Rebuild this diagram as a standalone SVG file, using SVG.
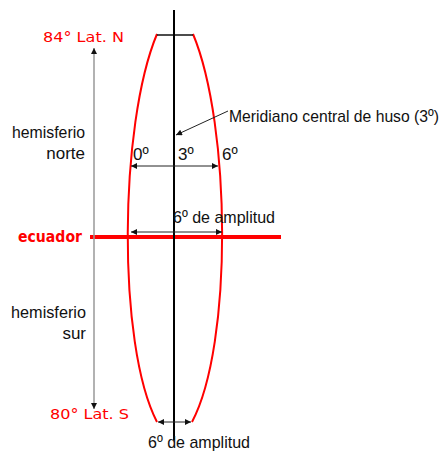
<svg xmlns="http://www.w3.org/2000/svg" width="443" height="452" viewBox="0 0 443 452">
<style>
.lbl{font-family:"Liberation Sans Narrow","Liberation Sans",Arial,sans-serif;fill:#111;font-size:17px}
.red{font-family:"Comic Sans MS","DejaVu Sans",sans-serif;fill:#ff0000;font-size:14px}
.arr{stroke:#222;stroke-width:1;fill:none}
.red-line{stroke:#ff0000;fill:none}
</style>
<defs>
<marker id="ah" viewBox="0 0 10 10" refX="10" refY="5" markerWidth="7" markerHeight="6" markerUnits="userSpaceOnUse" orient="auto-start-reverse">
<path d="M0,0 L10,5 L0,10 z" fill="#111"/>
</marker>
</defs>
<rect width="443" height="452" fill="#fff"/>
<g id="huso">
<path class="red-line" stroke-width="2" d="M157,34 C119,125 117,345 157,422"/>
<path class="red-line" stroke-width="2" d="M193,34 C231,125 233,345 192,422"/>
<line x1="157" y1="35" x2="193" y2="35" stroke="#111" stroke-width="1.5"/>
</g>
<g id="ecuador">
<line x1="90" y1="237" x2="281" y2="237" stroke="#ff0000" stroke-width="4"/>
<text x="18" y="242" font-family="'Comic Sans MS','DejaVu Sans',sans-serif" font-weight="bold" font-size="16" fill="#ff0000" textLength="64" lengthAdjust="spacingAndGlyphs">ecuador</text>
</g>
<g id="meridiano">
<line x1="174" y1="10" x2="174" y2="440" stroke="#000" stroke-width="2"/>
</g>
<g id="connectors">
<line x1="94" y1="48" x2="94" y2="409" stroke="#999" stroke-width="1.5" marker-start="url(#ah)" marker-end="url(#ah)"/>
<line class="arr" x1="228" y1="111" x2="176" y2="135" marker-end="url(#ah)"/>
<line class="arr" x1="131" y1="166" x2="218" y2="166" marker-start="url(#ah)" marker-end="url(#ah)"/>
<line class="arr" x1="131" y1="232" x2="222" y2="232" marker-start="url(#ah)" marker-end="url(#ah)"/>
<line class="arr" x1="158" y1="422" x2="191" y2="422" marker-start="url(#ah)" marker-end="url(#ah)"/>
</g>
<g id="labels">
<text class="red" x="43" y="42" textLength="81" lengthAdjust="spacingAndGlyphs">84° Lat. N</text>
<text class="red" x="50" y="419" textLength="79" lengthAdjust="spacingAndGlyphs">80° Lat. S</text>
<text class="lbl" x="85" y="138" text-anchor="end" textLength="73" lengthAdjust="spacingAndGlyphs">hemisferio</text>
<text class="lbl" x="85" y="159" text-anchor="end">norte</text>
<text class="lbl" x="86" y="318" text-anchor="end" textLength="75" lengthAdjust="spacingAndGlyphs">hemisferio</text>
<text class="lbl" x="86" y="339" text-anchor="end">sur</text>
<text class="lbl" x="229" y="122" textLength="210" lengthAdjust="spacingAndGlyphs">Meridiano central de huso (3º)</text>
<text class="lbl" x="133" y="160">0º</text>
<text class="lbl" x="178" y="160">3º</text>
<text class="lbl" x="222" y="160">6º</text>
<text class="lbl" x="173" y="223" textLength="102" lengthAdjust="spacingAndGlyphs">6º de amplitud</text>
<text class="lbl" x="148" y="448" textLength="102" lengthAdjust="spacingAndGlyphs">6º de amplitud</text>
</g>
</svg>
